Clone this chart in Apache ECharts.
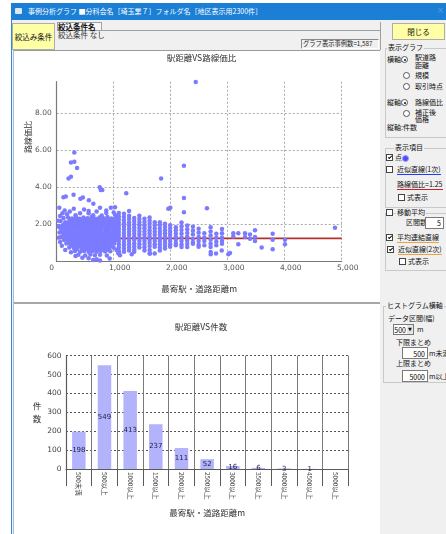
<!DOCTYPE html>
<html lang="ja">
<head>
<meta charset="utf-8">
<title>事例分析グラフ</title>
<script src="https://cdn.jsdelivr.net/npm/echarts@6.0.0/dist/echarts.min.js"></script>
<style>
html,body{margin:0;padding:0}
body{width:446px;height:534px;overflow:hidden;background:#fff;position:relative;font-family:"Noto Sans CJK JP","Noto Sans",sans-serif}
.a{position:absolute;white-space:nowrap;line-height:1;color:#111;font-size:7px}
.g{position:absolute;border:1px solid #c9c9c9;border-right:none;box-sizing:border-box}
.gl{background:#f0f0f0;padding:0 1px}
.r{position:absolute;width:5px;height:5px;border:1px solid #555;border-radius:50%;background:#fff}
.r.on::after{content:'';position:absolute;left:1.5px;top:1.5px;width:2px;height:2px;border-radius:50%;background:#111}
.c{position:absolute;width:5px;height:5px;border:1px solid #444;background:#fff}
.c.on::after{content:'';position:absolute;left:1.6px;top:0;width:1.2px;height:3px;border:solid #111;border-width:0 1px 1px 0;transform:rotate(45deg)}
.box{position:absolute;background:#fff;border:1px solid #7a7a7a;box-sizing:border-box;font-size:7px;line-height:1;text-align:right;padding-right:2px}
.btn{position:absolute;background:#ffffa6;border:1px solid #adadad;box-sizing:border-box;display:flex;align-items:center;justify-content:center;font-size:7.5px;color:#111}
</style>
</head>
<body>
<!-- window chrome -->
<div class="a" style="left:11px;top:3px;width:435px;height:531px;background:#f0f0f0"></div>
<div class="a" style="left:11px;top:3px;width:435px;height:17px;background:#1b7fd6"></div>
<div class="a" style="left:15px;top:8px;width:7px;height:6px;background:#dfe8f2;border-radius:1px"></div>
<div class="a" style="left:28px;top:8px;color:#fff;font-size:7px">事例分析グラフ ■分科会名［埼玉業７］フォルダ名［地区表示用2300件］</div>
<div class="a" style="left:437px;top:7px;color:#5d9ee0;font-size:8px;font-family:'DejaVu Sans'">×</div>
<div class="a" style="left:11px;top:20px;width:1px;height:514px;background:#3d86d2"></div>
<div class="a" style="left:13px;top:50px;width:1px;height:484px;background:#9cc1e8"></div>

<div class="btn" style="left:12px;top:23px;width:43px;height:27px">絞込み条件</div>
<div class="a" style="left:57px;top:22px;width:45px;height:9px;border:1px solid #a0a0a0;box-sizing:border-box;background:#f7f7f7"></div>
<div class="a" style="left:58px;top:23px;font-weight:bold;font-size:7.5px">絞込条件名</div>
<div class="a" style="left:102px;top:30px;width:278px;height:1px;background:#a0a0a0"></div>
<div class="a" style="left:58px;top:31px;font-size:7.5px;color:#333">絞込条件 なし</div>
<div class="a" style="left:380px;top:22px;width:1px;height:28px;background:#a0a0a0"></div>
<div class="a" style="left:301px;top:39px;width:78px;height:10px;border:1px solid;border-color:#8a8a8a #fff #fff #8a8a8a;box-sizing:border-box"></div>
<div class="a" style="left:303px;top:41px;font-size:6.3px;color:#222">グラフ表示事例数=1,587</div>

<!-- chart panels -->
<div class="a" style="left:14px;top:50px;width:366px;height:252px;background:#fff;border-top:1px solid #9a9a9a;box-sizing:border-box"></div>
<div class="a" style="left:14px;top:302px;width:366px;height:2px;background:#a6a6a6"></div>
<div class="a" style="left:14px;top:304px;width:366px;height:230px;background:#fff"></div>
<div id="c1" style="position:absolute;left:14px;top:51px;width:366px;height:251px"></div>
<div id="c2" style="position:absolute;left:14px;top:304px;width:366px;height:230px"></div>

<!-- right panel -->
<div class="btn" style="left:392px;top:23px;width:53px;height:17px">閉じる</div>

<div class="g" style="left:385px;top:48px;width:61px;height:90px"></div>
<div class="a gl" style="left:387px;top:44px">表示グラフ</div>
<div class="a" style="left:387px;top:56px">横軸:</div>
<div class="r on" style="left:401px;top:56px"></div>
<div class="a" style="left:415px;top:54px">駅道路</div>
<div class="a" style="left:415px;top:62px">距離</div>
<div class="r" style="left:403px;top:72px"></div>
<div class="a" style="left:415px;top:72px">規模</div>
<div class="r" style="left:403px;top:83px"></div>
<div class="a" style="left:415px;top:83px">取引時点</div>
<div class="a" style="left:387px;top:99px">縦軸:</div>
<div class="r on" style="left:401px;top:99px"></div>
<div class="a" style="left:415px;top:99px">路線価比</div>
<div class="r" style="left:403px;top:110px"></div>
<div class="a" style="left:415px;top:109px">補正後</div>
<div class="a" style="left:415px;top:116px">価格</div>
<div class="a" style="left:387px;top:124px">縦軸:件数</div>

<div class="g" style="left:385px;top:148px;width:61px;height:60px"></div>
<div class="a gl" style="left:394px;top:144px">表示項目</div>
<div class="c on" style="left:386px;top:154px"></div>
<div class="a" style="left:395px;top:154px">点</div>
<div class="a" style="left:402px;top:155px;width:5px;height:5px;border-radius:50%;background:#4d4dff;border:1px solid #9a9aff"></div>
<div class="c" style="left:386px;top:166px"></div>
<div class="a" style="left:397px;top:166px;border-bottom:1px solid #1a3cff;padding-bottom:1px">近似直線(1次)</div>
<div class="a" style="left:397px;top:181px;border-bottom:1px solid #d02020;padding-bottom:1px">路線価比=1.25</div>
<div class="c" style="left:398px;top:194px"></div>
<div class="a" style="left:407px;top:194px">式表示</div>

<div class="g" style="left:385px;top:213px;width:61px;height:58px"></div>
<div class="c" style="left:386px;top:209px"></div>
<div class="a gl" style="left:396px;top:209px">移動平均</div>
<div class="a" style="left:406px;top:219px">区間数</div>
<div class="box" style="left:425px;top:217px;width:19px;height:12px;padding-top:2px">5</div>
<div class="c on" style="left:386px;top:234px"></div>
<div class="a" style="left:397px;top:234px;border-bottom:1px solid #f0a040;padding-bottom:1px">平均連結直線</div>
<div class="c on" style="left:387px;top:246px"></div>
<div class="a" style="left:398px;top:246px;border-bottom:1px solid #f0a040;padding-bottom:1px">近似直線(2次)</div>
<div class="c" style="left:399px;top:258px"></div>
<div class="a" style="left:408px;top:258px">式表示</div>

<div class="g" style="left:383px;top:306px;width:63px;height:77px"></div>
<div class="a gl" style="left:386px;top:302px">ヒストグラム横軸</div>
<div class="a" style="left:388px;top:315px">データ区間(幅)</div>
<div class="box" style="left:393px;top:324px;width:21px;height:11px;padding-top:2px;padding-right:7px">500</div>
<div class="a" style="left:407px;top:325px;width:6px;height:9px;background:#e6e6e6;font-size:5px;text-align:center;line-height:9px;font-family:'DejaVu Sans'">▼</div>
<div class="a" style="left:417px;top:326px">m</div>
<div class="a" style="left:396px;top:339px">下限まとめ</div>
<div class="box" style="left:402px;top:347px;width:26px;height:12px;padding-top:2.5px">500</div>
<div class="a" style="left:429px;top:350px">m未満</div>
<div class="a" style="left:396px;top:360px">上限まとめ</div>
<div class="box" style="left:402px;top:370px;width:26px;height:12px;padding-top:2.5px">5000</div>
<div class="a" style="left:429px;top:373px">m以上</div>

<script>
// ---------------- data ----------------
const scatterTitle = '駅距離VS路線価比';
const histTitle = '駅距離VS件数';
const xAxisName = '最寄駅・道路距離m';
const ratioAxisName = '路線価比';
const countAxisName = '件\n数';
const ratioLineValue = 1.25;          // 路線価比=1.25
const distanceMax = 5000;
const ratioMax = 9.7;

// dense cluster (x: m, y: ratio)
const clusterPoints = [
  [180,2.55],[330,2.5],[410,2.6],[560,2.6],[640,2.5],[790,2.48],[870,2.62],[1030,2.5],
  [120,2.35],[200,2.38],[270,2.32],[340,2.4],[400,2.3],[470,2.37],[540,2.33],[610,2.4],[680,2.31],[750,2.38],[820,2.34],[890,2.4],[960,2.32],[1040,2.36],
  [70,2.18],[150,2.12],[220,2.16],[290,2.1],[360,2.17],[430,2.13],[500,2.19],[570,2.11],[640,2.15],[710,2.18],[780,2.12],[850,2.16],[920,2.1],[990,2.17],[1060,2.13],
  [40,1.92],[110,1.97],[180,1.93],[250,1.98],[320,1.94],[390,1.96],[460,1.91],[530,1.97],[600,1.95],[670,1.92],[740,1.98],[810,1.94],[880,1.96],[950,1.92],[1020,1.97],
  [80,1.77],[150,1.73],[220,1.76],[290,1.72],[360,1.78],[430,1.74],[500,1.76],[570,1.71],[640,1.77],[710,1.75],[780,1.72],[850,1.78],[920,1.74],[990,1.76],[1060,1.73],
  [50,1.56],[120,1.52],[190,1.57],[260,1.53],[330,1.55],[400,1.51],[470,1.58],[540,1.54],[610,1.56],[680,1.52],[750,1.57],[820,1.53],[890,1.55],[960,1.51],[1030,1.56],
  [90,1.34],[160,1.37],[230,1.33],[300,1.36],[370,1.32],[440,1.38],[510,1.35],[580,1.33],[650,1.37],[720,1.34],[790,1.36],[860,1.32],[930,1.37],[1000,1.35],[1070,1.33],
  [130,1.16],[200,1.13],[270,1.17],[340,1.14],[410,1.12],[480,1.18],[550,1.15],[620,1.13],[690,1.17],[760,1.14],[830,1.16],[900,1.12],[970,1.17],[1040,1.15],
  [170,0.97],[240,0.93],[310,0.96],[380,0.92],[450,0.98],[520,0.94],[590,0.96],[660,0.93],[730,0.97],[800,0.94],[870,0.96],[940,0.92],[1010,0.97],
  [220,0.76],[300,0.73],[370,0.77],[440,0.72],[510,0.76],[580,0.74],[650,0.78],[720,0.73],[790,0.76],[860,0.72],[930,0.77],[1000,0.74],
  [320,0.56],[410,0.52],[480,0.57],[560,0.53],[630,0.56],[700,0.52],[770,0.57],[850,0.54],[940,0.55],
  [380,0.36],[500,0.33],[590,0.38],[670,0.34],[760,0.37],[880,0.33],
  [560,0.18],[700,0.12],[760,0.06],[930,0.16],[640,0.08],
  [60,2.45],[100,2.6],[140,2.75],[230,2.7],[300,2.85],[480,2.8],[560,2.72],[700,2.7],[760,2.9],[870,2.75],[950,2.9],[1000,2.65],
  [40,1.3],[60,1.05],[90,0.85],[150,0.62],[250,0.5],[330,0.3],[450,0.2],[1080,0.45],[1050,0.62],[28,2.2],[46,1.85],
  // core, between the rows above
  [235,2.27],[305,2.24],[375,2.28],[445,2.25],[515,2.27],[585,2.23],[655,2.28],[725,2.25],[795,2.27],[865,2.24],[935,2.28],[1005,2.25],
  [185,2.06],[255,2.04],[325,2.07],[395,2.05],[465,2.03],[535,2.07],[605,2.05],[675,2.04],[745,2.07],[815,2.05],[885,2.03],[955,2.06],[1025,2.05],
  [115,1.86],[185,1.84],[255,1.87],[325,1.85],[395,1.83],[465,1.86],[535,1.85],[605,1.87],[675,1.84],[745,1.86],[815,1.85],[885,1.83],[955,1.87],[1025,1.85],
  [85,1.66],[155,1.64],[225,1.67],[295,1.65],[365,1.63],[435,1.66],[505,1.65],[575,1.67],[645,1.64],[715,1.66],[785,1.65],[855,1.63],[925,1.67],[995,1.65],
  [125,1.46],[195,1.44],[265,1.47],[335,1.45],[405,1.43],[475,1.46],[545,1.45],[615,1.47],[685,1.44],[755,1.46],[825,1.45],[895,1.43],[965,1.47],[1035,1.45],
  [165,1.26],[235,1.24],[305,1.27],[375,1.25],[445,1.23],[515,1.26],[585,1.25],[655,1.27],[725,1.24],[795,1.26],[865,1.25],[935,1.23],[1005,1.26],
  [205,1.06],[275,1.04],[345,1.07],[415,1.05],[485,1.03],[555,1.06],[625,1.05],[695,1.07],[765,1.04],[835,1.06],[905,1.05],[975,1.03],
  [255,0.86],[335,0.84],[405,0.87],[475,0.85],[545,0.83],[615,0.86],[685,0.85],[755,0.87],[825,0.84],[895,0.86],[965,0.85],
  [350,0.66],[445,0.64],[520,0.67],[595,0.65],[665,0.63],[735,0.66],[810,0.65],[895,0.64]
];

// vertical stripes of cases beyond ~1,000 m
const stripeX = [1090,1180,1270,1360,1450,1540,1630,1720,1810,1900,1990,2090,2190,2290,2390,2490,2590,2700,2800,2900];
const stripeY = [
  [2.62,2.44,2.28,2.1,1.93,1.77,1.6,1.44,1.27,1.1,0.93,0.77,0.6,0.5],
  [2.58,2.4,2.22,2.05,1.88,1.71,1.54,1.37,1.2,1.03,0.86,0.69,0.52],
  [2.72,2.47,2.3,2.12,1.95,1.78,1.61,1.44,1.27,1.1,0.93,0.76,0.6],
  [2.35,2.18,2.01,1.84,1.67,1.5,1.33,1.16,0.99,0.82,0.65,0.52],
  [2.47,2.29,2.12,1.95,1.78,1.61,1.44,1.27,1.1,0.93,0.76],
  [2.3,2.13,1.96,1.79,1.62,1.45,1.28,1.11,0.94,0.77,0.6],
  [2.38,2.2,2.03,1.86,1.69,1.52,1.35,1.18,1.01,0.84,0.62,0.43],
  [2.12,1.95,1.78,1.61,1.44,1.27,1.1,0.93,0.8,0.43],
  [2.12,1.95,1.78,1.61,1.44,1.27,1.1,0.93,0.76,0.6],
  [2.03,1.86,1.69,1.52,1.35,1.18,1.01,0.84,0.7],
  [1.95,1.78,1.61,1.44,1.27,1.1,0.93,0.8],
  [1.85,1.68,1.51,1.34,1.17,1.0,0.88],
  [2.1,1.9,1.7,1.5,1.3,1.1,0.92,0.78],
  [1.94,1.74,1.54,1.33,1.12,0.95,0.78],
  [1.88,1.66,1.45,1.22,1.02,0.96],
  [1.77,1.55,1.32,1.1,0.9,0.8],
  [1.53,1.3,1.1,0.87],
  [1.85,1.62,1.4,1.18,0.96,0.78],
  [1.5,1.28,1.06,0.87],
  [1.76,1.52,1.3,1.1,0.96]
];

// isolated points
const outlierPoints = [
  [309,5.88],[250,5.34],[309,5.38],[357,5.04],[207,4.48],[250,4.57],[755,4.0],[773,3.86],[800,3.86],
  [1220,3.68],[118,3.46],[160,3.5],[46,2.9],[296,3.6],[416,3.38],[460,3.45],[564,3.3],[643,3.11],
  [1023,2.93],[1993,2.9],[2232,5.16],[2232,3.43],[2232,2.66],[1832,4.48],[2439,9.68],[2636,2.87],
  [1958,2.84],[4882,1.82],[1110,0.34],[1316,0.39],[1637,0.43],[2702,0.51],[2702,0.39],[2795,0.43],[2895,0.6],
  [3011,0.39],[3040,0.46],[3098,1.53],[3098,1.35],[3186,1.53],[3186,0.93],[3304,1.53],[3304,1.32],
  [3391,1.46],[3391,1.23],[3479,1.68],[3479,1.32],[3479,1.1],[3596,0.75],[3789,1.5],[3789,1.18],
  [3789,0.66],[4005,1.18],[4005,0.93]
];

// histogram
const binLabels = ['500未満','500以上','1000以上','1500以上','2000以上','2500以上','3000以上','3500以上','4000以上','4500以上','5000以上'];
const binCounts = [198,549,413,237,111,52,16,6,3,1,0];
const countMax = 600;

// ---------------- charts ----------------
const jp = '"Noto Sans CJK JP", sans-serif';
const num = '"DejaVu Sans", sans-serif';

const scatterData = clusterPoints.concat(outlierPoints);
stripeX.forEach((x, i) => stripeY[i].forEach(y => scatterData.push([x, y])));

const c1 = echarts.init(document.getElementById('c1'), null, {renderer: 'canvas', width: 366, height: 251});
c1.setOption({
  animation: false,
  backgroundColor: 'transparent',
  grid: {left: 42.7, right: 38.3, top: 30.7, bottom: 40.5, outerBoundsMode: 'none'},
  graphic: [
    {type: 'text', x: 187.5, y: 7, silent: true,
     style: {text: scatterTitle, font: '8.5px ' + jp, fill: '#333', align: 'center', verticalAlign: 'middle'}},
    {type: 'text', x: 14, y: 86, rotation: Math.PI / 2, silent: true,
     style: {text: ratioAxisName, font: '8px ' + jp, fill: '#333', align: 'center', verticalAlign: 'middle'}}
  ],
  xAxis: {
    type: 'value', min: 0, max: distanceMax, interval: 1000,
    name: xAxisName, nameLocation: 'middle', nameGap: 23,
    nameTextStyle: {fontFamily: jp, fontSize: 8.5, color: '#333'},
    axisLine: {show: true, lineStyle: {color: '#7a7a7a', width: 1.2}},
    axisTick: {show: false},
    axisLabel: {
      margin: 2.5, fontFamily: num, fontSize: 7.5, color: '#555',
      formatter: v => v === 0 ? '{z|0}' : '{n|' + v.toLocaleString('en-US') + '}',
      rich: {z: {padding: [0, 10, 0, 0]}, n: {padding: [0, 0, 0, 12]}}
    },
    splitLine: {show: true, showMinLine: false, lineStyle: {color: '#a8a8a8', type: [2, 2]}}
  },
  yAxis: {
    type: 'value', min: 0, max: ratioMax, interval: 2,
    axisLine: {show: true, lineStyle: {color: '#7a7a7a', width: 1.2}},
    axisTick: {show: false},
    axisLabel: {margin: 5, fontFamily: num, fontSize: 7.5, color: '#555', showMinLabel: false, showMaxLabel: false,
                formatter: v => v.toFixed(2)},
    splitLine: {show: true, showMinLine: false, showMaxLine: false, lineStyle: {color: '#a8a8a8', type: [2, 2]}}
  },
  series: [
    {type: 'line', name: ratioAxisName + '=' + ratioLineValue, data: [[0, ratioLineValue], [distanceMax, ratioLineValue]],
     symbol: 'none', silent: true, z: 1, lineStyle: {color: '#b3322e', width: 1.6}},
    {type: 'scatter', data: scatterData, symbolSize: 4.5, z: 2,
     itemStyle: {color: '#7b7bff', opacity: 1}}
  ]
});

const c2 = echarts.init(document.getElementById('c2'), null, {renderer: 'canvas', width: 366, height: 230});
c2.setOption({
  animation: false,
  backgroundColor: 'transparent',
  grid: {left: 52, right: 31.7, top: 51.7, bottom: 65, outerBoundsMode: 'none'},
  graphic: [
    {type: 'text', x: 187, y: 23, silent: true,
     style: {text: histTitle, font: '8.5px ' + jp, fill: '#333', align: 'center', verticalAlign: 'middle'}}
  ],
  xAxis: {
    type: 'category', data: binLabels, boundaryGap: true,
    name: xAxisName, nameLocation: 'middle', nameGap: 39.5,
    nameTextStyle: {fontFamily: jp, fontSize: 8.5, color: '#333'},
    axisLine: {show: true, lineStyle: {color: '#5a5a5a', width: 1.2}},
    axisTick: {show: true, length: 17, lineStyle: {color: '#5a5a5a'}},
    axisLabel: {rotate: -90, margin: 3, fontFamily: jp, fontSize: 6.5, color: '#444', interval: 0},
    splitLine: {show: true, lineStyle: {color: '#7a7a7a', width: 1}}
  },
  yAxis: {
    type: 'value', min: 0, max: countMax, interval: 100,
    name: countAxisName, nameLocation: 'middle', nameRotate: 0, nameGap: 24,
    nameTextStyle: {fontFamily: jp, fontSize: 8.5, color: '#333', lineHeight: 13},
    axisLine: {show: true, lineStyle: {color: '#5a5a5a', width: 1.2}},
    axisTick: {show: false},
    axisLabel: {margin: 4.5, fontFamily: num, fontSize: 7.5, color: '#444'},
    splitLine: {show: true, lineStyle: {color: '#555', type: [2, 2]}}
  },
  series: [
    {type: 'bar', data: binCounts, barWidth: 13.5, z: 2,
     itemStyle: {color: '#b3b3fc'},
     label: {show: true, position: 'inside', fontFamily: num, fontSize: 7, color: '#22224a',
             formatter: p => p.value > 0 ? String(p.value) : ''}}
  ]
});
</script>
</body>
</html>
